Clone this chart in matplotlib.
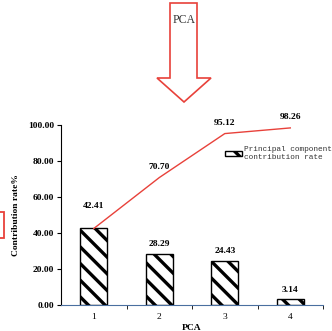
import matplotlib.pyplot as plt
from matplotlib.patches import Polygon, Rectangle

components = [1, 2, 3, 4]
contribution = [42.41, 28.29, 24.43, 3.14]
cumulative = [42.41, 70.70, 95.12, 98.26]
yticks = [0, 20, 40, 60, 80, 100]

plt.rcParams['hatch.linewidth'] = 2.4

fig = plt.figure(figsize=(3.32, 3.31), dpi=100)
ax = fig.add_axes([0.184, 0.079, 0.789, 0.544])

bars = ax.bar(components, contribution, width=0.41, color='white', edgecolor='black',
              hatch='\\\\', linewidth=1.0, label='Principal component\ncontribution rate')
ax.plot(components, cumulative, color='#e8413a', linewidth=1.0)

serif = {'family': 'Liberation Serif', 'weight': 'bold', 'size': 6.8}
# bar labels
offs = [13, 4, 4, 4]
for x, v, o in zip(components, contribution, offs):
    ax.annotate('%.2f' % v, (x, v), xytext=(0, o), textcoords='offset points',
                ha='center', va='bottom', **serif)
# cumulative labels
for x, v in zip(components[1:], cumulative[1:]):
    ax.annotate('%.2f' % v, (x, v), xytext=(0, 5), textcoords='offset points',
                ha='center', va='bottom', **serif)

ax.set_xlim(0.5, 4.5)
ax.set_ylim(0, 100)
ax.set_yticks(yticks)
ax.set_yticklabels(['%.2f' % t for t in yticks], **serif)
ax.set_xticks(components)
ax.set_xticklabels([str(c) for c in components], family='Liberation Serif', size=6.8)
ax.set_xticks([1.5, 2.5, 3.5, 4.5], minor=True)
ax.tick_params(axis='x', which='major', length=0, pad=6)
ax.tick_params(axis='x', which='minor', length=3, direction='out')
ax.tick_params(axis='y', length=3, direction='out', pad=2)

ax.spines['top'].set_visible(False)
ax.spines['right'].set_visible(False)
ax.spines['bottom'].set_color('#4a6fa0')

ax.set_xlabel('PCA', labelpad=2, **serif)
ax.set_ylabel('Contribution rate%', labelpad=6, **serif)

leg = ax.legend(loc='upper left', bbox_to_anchor=(0.6, 0.92), frameon=False,
                prop={'family': 'Liberation Mono', 'size': 5.6},
                handlelength=2.2, handleheight=0.6, handletextpad=0.2, labelcolor='#333333')

# big red arrow at top (pixel coords converted to figure fraction)
W, H = 332.0, 331.0
pts = [(170, 3), (197, 3), (197, 78), (211, 78), (184, 102), (157, 78), (170, 78)]
arrow = Polygon([(x / W, 1 - y / H) for x, y in pts], closed=True, fill=False,
                edgecolor='#e8413a', linewidth=1.2, transform=fig.transFigure)
fig.patches.append(arrow)
fig.text(184 / W, 1 - 20 / H, 'PCA', ha='center', va='center',
         family='Liberation Serif', size=8.5, color='#333333')

# red fragment at left edge
fig.patches.append(Rectangle((-2 / W, 1 - 238 / H), 6 / W, 26 / H, fill=False,
                             edgecolor='#e8413a', linewidth=1.3, transform=fig.transFigure))

fig.savefig('out.png', dpi=100)
